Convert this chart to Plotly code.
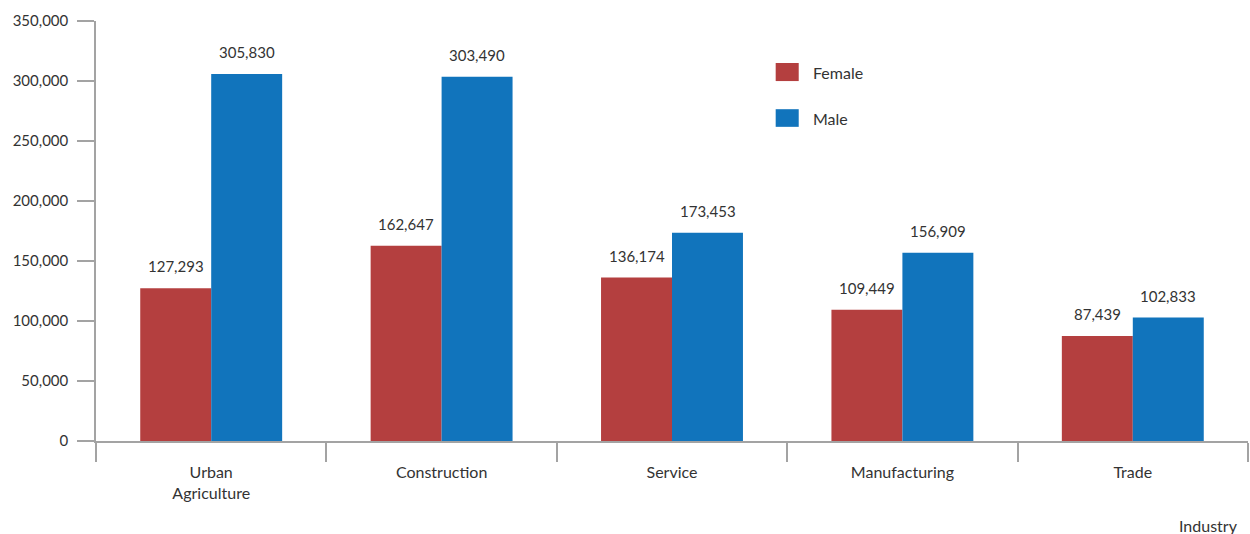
import plotly.graph_objects as go

# Employment by industry and sex
industries = ["Urban<br>Agriculture", "Construction", "Service", "Manufacturing", "Trade"]
female = [127293, 162647, 136174, 109449, 87439]
male = [305830, 303490, 173453, 156909, 102833]
y_ticks = [0, 50000, 100000, 150000, 200000, 250000, 300000, 350000]
y_tick_labels = ["0", "50,000", "100,000", "150,000", "200,000", "250,000", "300,000", "350,000"]

RED = "#B43F3F"
BLUE = "#1174BC"
AXIS = "#A3A3A3"
TEXT = "#333333"
FONT = "Lato"

fig = go.Figure()
fig.add_trace(go.Bar(name="Female", x=industries, y=female, marker_color=RED,
                     marker_line_width=0, showlegend=False))
fig.add_trace(go.Bar(name="Male", x=industries, y=male, marker_color=BLUE,
                     marker_line_width=0, showlegend=False))

# Value labels above each bar
annotations = []
for cat, f, m in zip(industries, female, male):
    for val, shift in ((f, -35.5), (m, 35.5)):
        annotations.append(dict(x=cat, y=val, xref="x", yref="y", text=f"{val:,}",
                                showarrow=False, xshift=shift, yanchor="bottom", yshift=11,
                                font=dict(family=FONT, size=15, color=TEXT)))

# Axis title at the lower right
annotations.append(dict(x=1, y=0, xref="paper", yref="paper", text="Industry",
                        showarrow=False, xanchor="right", yanchor="middle",
                        xshift=-8, yshift=-84,
                        font=dict(family=FONT, size=16, color=TEXT)))

# Legend drawn as swatches with labels
legend_items = [("Female", RED, 0.900, 0.857), ("Male", BLUE, 0.790, 0.748)]
shapes = []
for name, color, y1, y0 in legend_items:
    shapes.append(dict(type="rect", xref="paper", yref="paper", x0=0.590, x1=0.610,
                       y0=y0, y1=y1, fillcolor=color, line_width=0))
    annotations.append(dict(x=0.6207, y=(y0 + y1) / 2, xref="paper", yref="paper",
                            text=name, showarrow=False, xanchor="left", yanchor="middle",
                            font=dict(family=FONT, size=16, color=TEXT)))

fig.update_layout(
    width=1250, height=534,
    margin=dict(l=96, r=2, t=21, b=93),
    paper_bgcolor="white", plot_bgcolor="white",
    barmode="group", bargap=0.384, bargroupgap=0,
    font=dict(family=FONT, size=15, color=TEXT),
    annotations=annotations, shapes=shapes,
    xaxis=dict(showgrid=False, showline=True, linecolor=AXIS, linewidth=1.5,
               ticks="outside", tickson="boundaries", ticklen=19, tickcolor=AXIS,
               tickwidth=1.5, tickfont=dict(family=FONT, size=16, color=TEXT),
               ticklabelstandoff=16, range=[-0.5, 4.5], fixedrange=True),
    yaxis=dict(showgrid=False, zeroline=False, showline=True, linecolor=AXIS, linewidth=1.5,
               ticks="outside", ticklen=17, tickcolor=AXIS, tickwidth=1.5,
               tickvals=y_ticks, ticktext=y_tick_labels, range=[0, 350000],
               ticklabelstandoff=6,
               tickfont=dict(family=FONT, size=15, color=TEXT), fixedrange=True),
)

fig.write_html("out.html")
